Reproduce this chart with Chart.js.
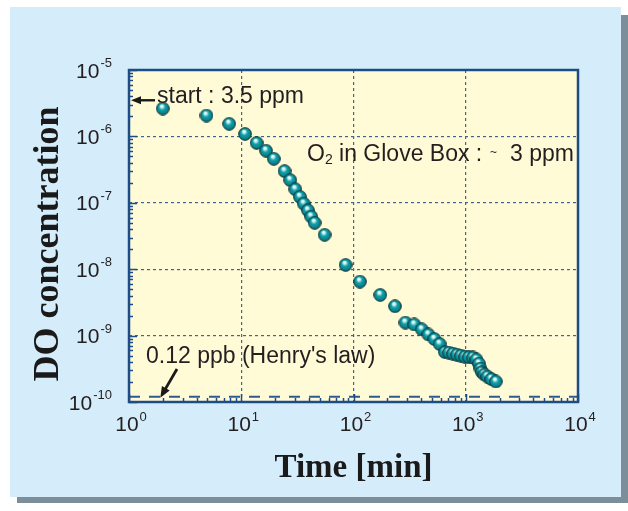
<!DOCTYPE html>
<html><head><meta charset="utf-8">
<script src="https://cdn.jsdelivr.net/npm/chart.js@4"></script>
<style>html,body{margin:0;padding:0;background:#fff;}canvas{display:block;}</style>
</head><body>
<canvas id="c" width="628" height="511"></canvas>
<script>
// ---- data ----
const timeMin = [2, 4.9, 7.8, 10.8, 13.7, 16.6, 19.5, 24.3, 27.3, 30.3, 33.3, 36, 39.3, 42, 45.1, 55.3, 85, 114, 173, 234, 290, 348, 406, 464, 525, 585, 651, 707, 768, 833, 904, 982, 1066, 1157, 1243, 1309, 1350, 1391, 1465, 1557, 1690, 1854];
const doConc = [2.63e-6, 2.06e-6, 1.55e-6, 1.09e-6, 8.0e-7, 6.1e-7, 4.6e-7, 3.0e-7, 2.2e-7, 1.6e-7, 1.23e-7, 9.7e-8, 7.7e-8, 6.2e-8, 5.0e-8, 3.3e-8, 1.16e-8, 6.5e-9, 4.1e-9, 2.77e-9, 1.57e-9, 1.47e-9, 1.24e-9, 1.04e-9, 8.9e-10, 7.5e-10, 5.66e-10, 5.56e-10, 5.37e-10, 5.19e-10, 5.01e-10, 4.84e-10, 4.76e-10, 4.68e-10, 4.37e-10, 3.8e-10, 3.19e-10, 2.83e-10, 2.6e-10, 2.42e-10, 2.22e-10, 2.04e-10];
const henryTime = [1, 10000];
const henryConc = [1.2e-10, 1.2e-10];
const startConc = 3.5e-6;
const xTickExponents = [0, 1, 2, 3, 4];
const yTickExponents = [-10, -9, -8, -7, -6, -5];
const xTitle = 'Time [min]';
const yTitle = 'DO concentration';
const noteStart = 'start : 3.5 ppm';
const noteHenry = "0.12 ppb (Henry's law)";

// ---- styles ----
const SANS = "'Liberation Sans', Arial, sans-serif";
const SERIF = "'Liberation Serif', 'Times New Roman', serif";
const AXIS = '#1d4c86';
const GRID = '#3f6690';
const TXT = '#231f20';

function makeSphere(d){
  const c=document.createElement('canvas'); c.width=c.height=d;
  const g=c.getContext('2d'); const r=d/2;
  const grad=g.createRadialGradient(r-1.2, r-2.8, 0.2, r, r, r);
  grad.addColorStop(0,'#ffffff'); grad.addColorStop(0.18,'#c4f2f2');
  grad.addColorStop(0.42,'#15a1aa'); grad.addColorStop(0.8,'#057f89'); grad.addColorStop(1,'#03484e');
  g.fillStyle=grad; g.beginPath(); g.arc(r,r,r-0.7,0,2*Math.PI); g.fill();
  g.lineWidth=1; g.strokeStyle='#11363a'; g.stroke();
  return c;
}
const sphere = makeSphere(14);

const isDecade = v => v > 0 && Math.abs(Math.log10(v) - Math.round(Math.log10(v))) < 1e-6;

function drawPow(ctx, x, baseline, exp, align){
  ctx.font = '21px ' + SANS;
  const w10 = ctx.measureText('10').width;
  ctx.font = '13px ' + SANS;
  const we = ctx.measureText(String(exp)).width;
  const total = w10 + 1 + we;
  let left = align === 'right' ? x - total : x - total/2;
  ctx.fillStyle = TXT; ctx.textAlign = 'left'; ctx.textBaseline = 'alphabetic';
  ctx.font = '21px ' + SANS; ctx.fillText('10', left, baseline);
  ctx.font = '13px ' + SANS; ctx.fillText(String(exp), left + w10 + 1, baseline - 10.5);
}

function arrow(ctx, x1, y1, x2, y2, head, wid){
  const a = Math.atan2(y2-y1, x2-x1);
  ctx.beginPath(); ctx.moveTo(x1,y1); ctx.lineTo(x2 - Math.cos(a)*head*0.8, y2 - Math.sin(a)*head*0.8); ctx.stroke();
  ctx.beginPath(); ctx.moveTo(x2,y2);
  ctx.lineTo(x2 - Math.cos(a)*head + Math.sin(a)*wid/2, y2 - Math.sin(a)*head - Math.cos(a)*wid/2);
  ctx.lineTo(x2 - Math.cos(a)*head - Math.sin(a)*wid/2, y2 - Math.sin(a)*head + Math.cos(a)*wid/2);
  ctx.closePath(); ctx.fill();
}

const decor = {
  id: 'decor',
  beforeDraw(chart){
    const ctx = chart.ctx, a = chart.chartArea;
    ctx.save();
    ctx.fillStyle = '#ffffff'; ctx.fillRect(0,0,chart.width,chart.height);
    ctx.fillStyle = '#7c8e9a'; ctx.fillRect(17,15,611,488);
    ctx.fillStyle = '#d5ecfa'; ctx.fillRect(10,7,611,490);
    ctx.fillStyle = '#fffbd7'; ctx.fillRect(a.left,a.top,a.right-a.left,a.bottom-a.top);
    ctx.restore();
  },
  afterDraw(chart){
    const ctx = chart.ctx, a = chart.chartArea;
    const xs = chart.scales.x, ys = chart.scales.y;
    ctx.save();
    // inward ticks
    ctx.strokeStyle = AXIS; ctx.lineWidth = 1.5;
    for (let e = xTickExponents[0]; e <= xTickExponents[xTickExponents.length-1]; e++){
      for (let m = 1; m <= 9; m++){
        const v = m * Math.pow(10, e); if (v > xs.max) break;
        const px = Math.round(xs.getPixelForValue(v)) + 0.5;
        const len = m === 1 ? 8 : 4;
        ctx.beginPath(); ctx.moveTo(px, a.bottom); ctx.lineTo(px, a.bottom - len); ctx.stroke();
      }
    }
    for (let e = yTickExponents[0]; e <= yTickExponents[yTickExponents.length-1]; e++){
      for (let m = 1; m <= 9; m++){
        const v = m * Math.pow(10, e); if (v > ys.max * 1.0001) break;
        const py = Math.round(ys.getPixelForValue(v)) + 0.5;
        const len = m === 1 ? 8 : 4;
        ctx.beginPath(); ctx.moveTo(a.left, py); ctx.lineTo(a.left + len, py); ctx.stroke();
      }
    }
    // box
    ctx.lineWidth = 2.5; ctx.strokeStyle = AXIS;
    ctx.strokeRect(a.left, a.top, a.right - a.left, a.bottom - a.top);
    // tick labels
    xTickExponents.forEach(e => drawPow(ctx, xs.getPixelForValue(Math.pow(10,e)) + 2, a.bottom + 29, e, 'center'));
    yTickExponents.forEach(e => drawPow(ctx, a.left - 17, ys.getPixelForValue(Math.pow(10,e)) + 7.5, e, 'right'));
    // axis titles
    ctx.fillStyle = '#1a1a1a';
    ctx.textAlign = 'center'; ctx.textBaseline = 'alphabetic';
    ctx.font = 'bold 33px ' + SERIF;
    ctx.fillText(xTitle, (a.left + a.right)/2, 477);
    ctx.save(); ctx.translate(58, 244); ctx.rotate(-Math.PI/2);
    ctx.font = 'bold 36px ' + SERIF;
    ctx.fillText(yTitle, 0, 0); ctx.restore();
    // annotations
    ctx.fillStyle = TXT; ctx.textAlign = 'left';
    ctx.font = '23px ' + SANS;
    ctx.fillText(noteStart, 157, 103);
    ctx.fillText(noteHenry, 146, 363);
    // O2 in glove box
    let x = 307;
    ctx.fillText('O', x, 161); x += ctx.measureText('O').width;
    ctx.font = '14px ' + SANS; ctx.fillText('2', x, 164); x += ctx.measureText('2').width;
    ctx.font = '23px ' + SANS; ctx.fillText(' in Glove Box :', x, 161);
    ctx.font = '12px ' + SANS; ctx.fillText('~', 490, 156);
    ctx.font = '23px ' + SANS; ctx.fillText('3 ppm', 510, 161);
    // arrows
    ctx.strokeStyle = '#1a1a1a'; ctx.fillStyle = '#1a1a1a'; ctx.lineWidth = 2.4;
    const ys0 = ys.getPixelForValue(startConc);
    arrow(ctx, 155, ys0, a.left + 2, ys0, 10, 8);
    ctx.lineWidth = 2.8;
    arrow(ctx, 177, 369, xs.getPixelForValue(1.9), ys.getPixelForValue(henryConc[0]) + 1, 11, 9);
    ctx.restore();
  }
};

const gridCfg = {
  drawTicks: false,
  color: c => isDecade(c.tick.value) ? GRID : 'rgba(0,0,0,0)',
  lineWidth: 1.2
};

new Chart(document.getElementById('c'), {
  type: 'scatter',
  data: {
    datasets: [
      {
        label: 'Henry', type: 'line',
        data: henryTime.map((t,i) => ({x: t, y: henryConc[i]})),
        borderColor: '#2e5b8e', borderWidth: 1.8, borderDash: [11, 9],
        pointRadius: 0, fill: false, order: 2
      },
      {
        label: 'DO',
        data: timeMin.map((t,i) => ({x: t, y: doConc[i]})),
        pointStyle: sphere, pointRadius: 7, order: 1
      }
    ]
  },
  options: {
    responsive: false, devicePixelRatio: 1, animation: false,
    layout: { padding: { left: 129, right: 50, top: 70, bottom: 109 } },
    plugins: { legend: { display: false }, tooltip: { enabled: false } },
    scales: {
      x: {
        type: 'logarithmic', min: 1, max: 10000,
        ticks: { display: false },
        grid: gridCfg,
        border: { display: false, dash: [3, 3] },
        title: { display: false }
      },
      y: {
        type: 'logarithmic', min: 1e-10, max: 1e-5,
        ticks: { display: false },
        grid: gridCfg,
        border: { display: false, dash: [3, 3] },
        title: { display: false }
      }
    }
  },
  plugins: [decor]
});
</script>
</body></html>
